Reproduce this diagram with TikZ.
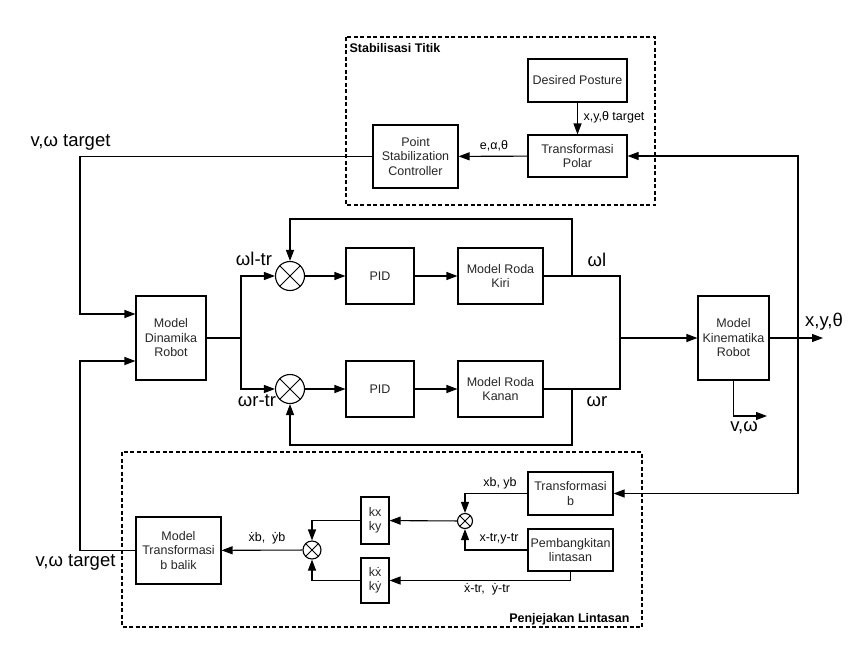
\documentclass[tikz,border=0pt]{standalone}
\usepackage{fontspec}
\setmainfont{Liberation Sans}
\usetikzlibrary{arrows.meta}
\begin{document}
\begin{tikzpicture}[x=1pt,y=-1pt,line width=1.1pt,
  box/.style={draw, align=center, inner sep=0pt, font=\fontsize{12.5}{14.5}\selectfont, text=black!85},
  arr/.style={-{Triangle[length=11pt,width=8pt]}},
  summer/.style={draw, circle, inner sep=0pt, minimum size=#1,
    path picture={\draw[line width=1pt] (path picture bounding box.north west) -- (path picture bounding box.south east)
      (path picture bounding box.north east) -- (path picture bounding box.south west);}},
  big/.style={font=\fontsize{18.5}{20}\selectfont, inner sep=0pt},
  small/.style={font=\fontsize{12.5}{14}\selectfont, inner sep=0pt},
  ttl/.style={font=\bfseries\fontsize{12.5}{14}\selectfont, inner sep=0pt},
  frame/.style={draw, line width=1.1pt, dash pattern=on 4pt off 2.5pt}
]
\useasboundingbox (0,0) rectangle (867,653);

% frames
\draw[frame] (346,37) rectangle (655,205);
\draw[frame] (122,452) rectangle (642,627);
\node[ttl, anchor=west] (t1) at (349,48) {Stabilisasi Titik};
\node[ttl, anchor=east] (t2) at (630,619) {Penjejakan Lintasan};

% top boxes
\node[box, minimum width=99pt, minimum height=43pt] (des) at (577.5,80.5) {Desired Posture};
\node[box, minimum width=99pt, minimum height=42pt] (tpol) at (577.5,156) {Transformasi\\Polar};
\node[box, minimum width=85pt, minimum height=63pt] (psc) at (415.5,156.5) {Point\\Stabilization\\Controller};

% middle
\node[box, minimum width=70pt, minimum height=84pt] (dyn) at (171,338) {Model\\Dinamika\\Robot};
\node[summer=29pt] (s1) at (290,276) {};
\node[summer=29pt] (s2) at (290,389) {};
\node[box, minimum width=68pt, minimum height=56pt] (pid1) at (380,276) {PID};
\node[box, minimum width=68pt, minimum height=56pt] (pid2) at (380,389) {PID};
\node[box, minimum width=85pt, minimum height=56pt] (kiri) at (500.5,276) {Model Roda\\Kiri};
\node[box, minimum width=85pt, minimum height=56pt] (kanan) at (500.5,389) {Model Roda\\Kanan};
\node[box, minimum width=71pt, minimum height=84pt] (kin) at (733.5,338) {Model\\Kinematika\\Robot};

% bottom
\node[box, minimum width=85pt, minimum height=67pt] (tbb) at (178.5,550.5) {Model\\Transformasi\\b balik};
\node[summer=18pt] (sb) at (312,550) {};
\node[box, minimum width=28pt, minimum height=47pt] (kxy) at (375,520.5) {kx\\ky};
\node[box, minimum width=28pt, minimum height=45pt] (kdxy) at (375,580.5) {kẋ\\kẏ};
\node[summer=15pt] (sa) at (465,521) {};
\node[box, minimum width=85pt, minimum height=43pt] (tb) at (570.5,493.5) {Transformasi\\b};
\node[box, minimum width=85pt, minimum height=42pt] (pem) at (570.5,550) {Pembangkitan\\lintasan};

% connectors top
\draw[arr] (des) -- (tpol);
\draw[arr] (tpol) -- (psc);
\draw[arr] (psc.west) -| (80,314) -- ([yshift=24pt]dyn.west);
\draw[arr] (tbb.west) -| (80,361) -- ([yshift=-23pt]dyn.west);

% connectors middle
\draw[arr] (dyn.east) -- (241,338) |- (s1.west);
\draw[arr] (241,338) |- (s2.west);
\draw[arr] (s1) -- (pid1);
\draw[arr] (s2) -- (pid2);
\draw[arr] (pid1) -- (kiri);
\draw[arr] (pid2) -- (kanan);
\draw (kiri.east) -| (620,389) -- (kanan.east);
\draw[arr] (620,338) -- (kin.west);
\draw[arr] (572,276) |- (290,219) -- (s1.north);
\draw[arr] (572,389) |- (290,445) -- (s2.south);
\draw[arr] (kin.east) -- (823,338);
\draw[arr] (kin.south) |- (767,416);
\draw[arr] (798,338) |- (tpol.east);
\draw[arr] (798,338) |- (tb.east);

% connectors bottom
\draw[arr] (tb.west) -| (sa.north);
\draw[arr] (pem.west) -| (sa.south);
\draw[arr] (sa) -- (kxy);
\draw[arr] (kxy.west) -| (sb.north);
\draw[arr] (kdxy.west) -| (sb.south);
\draw[arr] (sb) -- (tbb);
\draw[arr] (pem.south) |- (kdxy.east);

% labels
\node[big, anchor=west] (l1) at (30,142) {v,ω target};
\node[big, anchor=west] (l2) at (35,562) {v,ω target};
\node[big] (l3) at (254,259) {ωl-tr};
\node[big] (l4) at (257,401) {ωr-tr};
\node[big] (l5) at (597,260) {ωl};
\node[big] (l6) at (597,402) {ωr};
\node[big] (l7) at (824,322) {x,y,θ};
\node[big] (l8) at (744,428) {v,ω};
\node[small, anchor=west] (l9) at (583,117) {x,y,θ target};
\node[small] (l10) at (494,146) {e,α,θ};
\node[small] (l11) at (500,483) {xb, yb};
\node[small] (l12) at (499,539) {x-tr,y-tr};
\node[small] (l13) at (487,589) {ẋ-tr,\ \ ẏ-tr};
\node[small] (l14) at (267,538) {ẋb,\ \ ẏb};
\end{tikzpicture}
\end{document}
